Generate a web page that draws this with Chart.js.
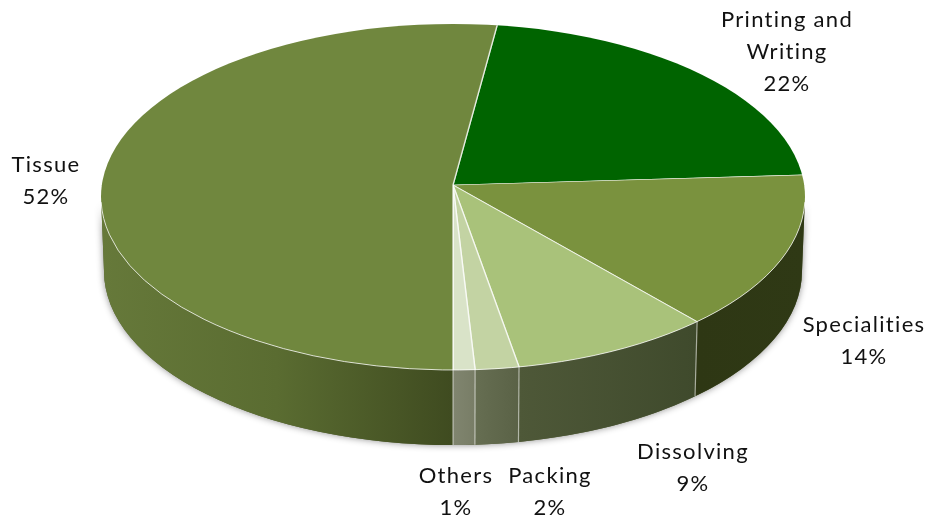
<!DOCTYPE html>
<html>
<head>
<meta charset="utf-8">
<style>
  html, body { margin: 0; background: #fff; }
  canvas { display: block; }
</style>
<script src="https://cdn.jsdelivr.net/npm/chart.js@4"></script>
</head>
<body>
<canvas id="pulpChart" width="931" height="521"></canvas>
<script>
const categories = ['Printing and\nWriting', 'Specialities', 'Dissolving', 'Packing', 'Others', 'Tissue'];
const shares = [22, 14, 9, 2, 1, 52];
const topColors = ['#006400', '#7a923e', '#a9c27a', '#c3d3a3', '#d9e3c8', '#70873e'];
const wallColors = [
  ['#006400', '#006400'],
  ['#2e3714', '#2f3915'],
  ['#4e5838', '#3f4a2c'],
  ['#666e52', '#5a6246'],
  ['#80856f', '#787d66'],
  ['#66793a', '#5a6c31', '#3f4b20']
];
const labelSpots = [[787, 20], [864, 325], [693, 452], [550, 476], [456, 476], [46, 165]];

// pie geometry on the page: wedges fan out from the apex, the rim is a true ellipse
const apex = { x: 453, y: 185 };
const rim = { x: 453, y: 197, rx: 352, ry: 173 };
const base = { x: 453, y: 271, rx: 349, ry: 174 };
const fan = { rx: 352, up: 161, down: 185, over: 1.08 };

// where a wedge edge at a given arc angle meets the rim, as an ellipse angle
function rimAngle(a) {
  const dx = Math.cos(a) * fan.rx;
  const dy = Math.sin(a) * (Math.sin(a) < 0 ? fan.up : fan.down);
  const ox = (apex.x - rim.x) / rim.rx, oy = (apex.y - rim.y) / rim.ry;
  const ux = dx / rim.rx, uy = dy / rim.ry;
  const A = ux * ux + uy * uy, B = 2 * (ox * ux + oy * uy), C = ox * ox + oy * oy - 1;
  const t = (-B + Math.sqrt(B * B - 4 * A * C)) / (2 * A);
  const th = Math.atan2(oy + t * uy, ox + t * ux);
  return th + 2 * Math.PI * Math.round((a - th) / (2 * Math.PI));
}

function drawWalls(ctx, arcs) {
  // soft shadow behind the whole side band
  ctx.save();
  ctx.shadowColor = 'rgba(0,0,0,0.45)';
  ctx.shadowBlur = 7;
  ctx.fillStyle = '#555f35';
  ctx.beginPath();
  ctx.ellipse(rim.x, rim.y, rim.rx, rim.ry, 0, 0, Math.PI);
  ctx.ellipse(base.x, base.y, base.rx, base.ry, 0, Math.PI, 0, true);
  ctx.closePath();
  ctx.fill();
  ctx.restore();

  arcs.forEach((arc, i) => {
    const t1 = Math.max(rimAngle(arc.startAngle), 0);
    const t2 = Math.min(rimAngle(arc.endAngle), Math.PI);
    if (t2 <= t1) return;
    const grad = ctx.createLinearGradient(rim.x + rim.rx * Math.cos(t2), 0, rim.x + rim.rx * Math.cos(t1), 0);
    wallColors[i].forEach((c, n, all) => grad.addColorStop(n / (all.length - 1), c));
    ctx.fillStyle = grad;
    ctx.beginPath();
    ctx.ellipse(rim.x, rim.y, rim.rx, rim.ry, 0, t1, t2);
    ctx.ellipse(base.x, base.y, base.rx, base.ry, 0, t2, t1, true);
    ctx.closePath();
    ctx.fill();

    // light seam down the wall at the slice edge
    if (t1 > 0) {
      ctx.strokeStyle = 'rgba(255,255,255,0.55)';
      ctx.lineWidth = 1.2;
      ctx.beginPath();
      ctx.moveTo(rim.x + rim.rx * Math.cos(t1), rim.y + rim.ry * Math.sin(t1));
      ctx.lineTo(base.x + base.rx * Math.cos(t1), base.y + base.ry * Math.sin(t1));
      ctx.stroke();
    }
  });
}

function drawTop(chart, arcs, halfTop, halfH, ry) {
  const ctx = chart.ctx;
  const cx = arcs[0].x, cy = arcs[0].y, r = arcs[0].outerRadius;
  ctx.save();
  ctx.beginPath();
  ctx.rect(0, halfTop, chart.width, halfH);
  ctx.clip();
  ctx.beginPath();
  ctx.ellipse(rim.x, rim.y, rim.rx, rim.ry, 0, 0, Math.PI * 2);
  ctx.clip();
  ctx.translate(apex.x, apex.y);
  ctx.scale(fan.rx * fan.over / r, ry * fan.over / r);
  ctx.translate(-cx, -cy);
  arcs.forEach(arc => arc.draw(ctx));
  ctx.restore();
}

const tiltedPie = {
  id: 'tiltedPie',
  beforeDatasetsDraw(chart) {
    const ctx = chart.ctx;
    const arcs = chart.getDatasetMeta(0).data;
    drawWalls(ctx, arcs);
    drawTop(chart, arcs, 0, apex.y + 0.5, fan.up);
    drawTop(chart, arcs, apex.y, chart.height - apex.y, fan.down);
    // pale line along the front of the rim
    ctx.strokeStyle = 'rgba(255,255,255,0.75)';
    ctx.lineWidth = 1;
    ctx.beginPath();
    ctx.ellipse(rim.x, rim.y, rim.rx, rim.ry, 0, 0.03, Math.PI - 0.03);
    ctx.stroke();
    return false;
  },
  afterDraw(chart) {
    const ctx = chart.ctx;
    ctx.save();
    ctx.font = '22px Lato';
    ctx.letterSpacing = '1.3px';
    ctx.fillStyle = '#111';
    ctx.textAlign = 'center';
    ctx.textBaseline = 'middle';
    categories.forEach((name, i) => {
      const lines = name.split('\n').concat(shares[i] + '%');
      lines.forEach((line, n) => {
        ctx.fillText(line, labelSpots[i][0], labelSpots[i][1] + n * 32);
      });
    });
    ctx.restore();
  }
};

new Chart(document.getElementById('pulpChart'), {
  type: 'pie',
  data: {
    labels: categories,
    datasets: [{
      data: shares,
      backgroundColor: topColors,
      borderColor: 'rgba(255,255,255,0.7)',
      borderWidth: 1
    }]
  },
  options: {
    responsive: false,
    animation: false,
    rotation: 7.2,
    plugins: { legend: { display: false }, tooltip: { enabled: false } }
  },
  plugins: [tiltedPie]
});
</script>
</body>
</html>
